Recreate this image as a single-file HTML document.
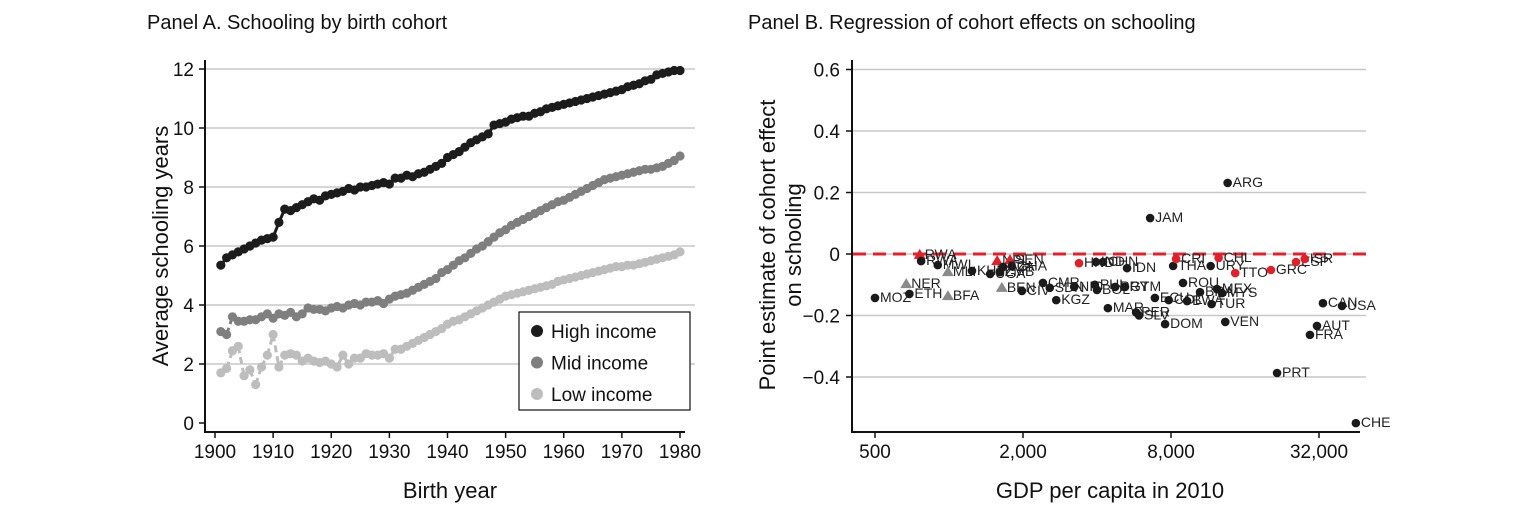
<!DOCTYPE html>
<html><head><meta charset="utf-8"><style>
body{margin:0;background:#fff;}
svg text{font-family:"Liberation Sans",sans-serif;}
</style></head><body>
<svg id="chart" width="1534" height="519" xmlns="http://www.w3.org/2000/svg">
<text x="147" y="29" font-size="20" fill="#111">Panel A. Schooling by birth cohort</text>
<text x="748" y="29" font-size="20" fill="#111">Panel B. Regression of cohort effects on schooling</text>
<g id="pa"></g><g id="pb"></g>
</svg>
<script>
const years=[];for(let y=1901;y<=1980;y++)years.push(y);
const highIncome=[5.35,5.6,5.7,5.8,5.9,6.0,6.1,6.2,6.25,6.3,6.8,7.25,7.2,7.3,7.4,7.5,7.6,7.55,7.7,7.75,7.8,7.85,7.95,7.9,8.0,8.0,8.05,8.1,8.15,8.1,8.3,8.3,8.4,8.35,8.45,8.5,8.6,8.7,8.8,9.0,9.1,9.2,9.35,9.5,9.6,9.7,9.8,10.1,10.15,10.2,10.3,10.35,10.4,10.4,10.5,10.55,10.65,10.7,10.75,10.8,10.85,10.9,10.95,11.0,11.05,11.1,11.15,11.2,11.25,11.3,11.4,11.45,11.5,11.6,11.65,11.8,11.85,11.9,11.95,11.95];
const midIncome=[3.1,3.0,3.6,3.45,3.45,3.5,3.5,3.6,3.7,3.55,3.7,3.65,3.75,3.6,3.7,3.9,3.85,3.85,3.8,3.9,3.95,3.9,4.0,4.05,4.0,4.1,4.1,4.15,4.05,4.2,4.3,4.35,4.4,4.5,4.6,4.7,4.8,4.9,5.1,5.2,5.35,5.5,5.6,5.75,5.9,6.0,6.15,6.3,6.45,6.55,6.7,6.8,6.9,7.0,7.1,7.2,7.3,7.4,7.5,7.55,7.65,7.75,7.85,7.95,8.05,8.15,8.25,8.3,8.35,8.4,8.45,8.5,8.55,8.6,8.6,8.65,8.7,8.8,8.9,9.05];
const lowIncome=[1.7,1.85,2.45,2.6,1.6,1.8,1.3,1.9,2.3,3.0,1.9,2.3,2.35,2.3,2.1,2.2,2.1,2.05,2.1,2.0,1.9,2.3,2.0,2.2,2.2,2.35,2.3,2.3,2.35,2.2,2.5,2.5,2.6,2.7,2.8,2.9,3.0,3.1,3.2,3.35,3.45,3.5,3.6,3.7,3.8,3.9,4.0,4.1,4.2,4.3,4.35,4.4,4.45,4.5,4.55,4.6,4.65,4.7,4.8,4.85,4.9,4.95,5.0,5.05,5.1,5.15,5.2,5.25,5.3,5.3,5.35,5.35,5.4,5.45,5.5,5.55,5.6,5.65,5.7,5.8];
const yTicksA=[0,2,4,6,8,10,12];
const xTicksA=[1900,1910,1920,1930,1940,1950,1960,1970,1980];
const countries=["MOZ","ETH","NER","BFA","RWA","RWA","MWI","MLI","KHM","UGA","ZMB","NPL","SEN","GHA","TZA","BEN","CIV","CMR","SDN","KGZ","NIC","PHL","BOL","PRY","GTM","IDN","CHN","IND","HND","MAR","PER","SLV","ECU","COL","DOM","ROU","BWA","BRA","TUR","MEX","MYS","VEN","ARG","JAM","THA","URY","CRI","CHL","TTO","GRC","ESP","ISR","CAN","USA","AUT","FRA","PRT","CHE"];
const gdp=[500,690,670,990,760,770,900,990,1240,1470,1610,1570,1770,1800,1660,1640,1980,2410,2570,2730,3230,3920,4000,4740,5200,5300,4230,3960,3380,4430,5770,5930,6880,7830,7570,8950,9300,10500,11700,12300,12900,13300,13600,6580,8160,11600,8390,12500,14600,20400,25800,28000,33200,39700,31400,29400,21600,45200];
const effect=[-0.143,-0.13,-0.098,-0.137,-0.003,-0.023,-0.036,-0.059,-0.055,-0.065,-0.059,-0.023,-0.02,-0.04,-0.042,-0.11,-0.12,-0.094,-0.11,-0.15,-0.107,-0.1,-0.117,-0.107,-0.107,-0.046,-0.026,-0.026,-0.03,-0.176,-0.19,-0.2,-0.143,-0.15,-0.228,-0.094,-0.153,-0.124,-0.163,-0.114,-0.127,-0.221,0.231,0.117,-0.039,-0.039,-0.016,-0.013,-0.062,-0.052,-0.026,-0.016,-0.16,-0.169,-0.234,-0.263,-0.387,-0.55];
const markerType=["c","c","gt","gt","rt","c","c","gt","c","c","c","rt","rt","c","c","gt","c","c","c","c","c","c","c","c","c","c","c","c","r","c","c","c","c","c","c","c","c","c","c","c","c","c","c","c","c","c","r","r","r","r","r","r","c","c","c","c","c","c"];
const yTicksB=[-0.4,-0.2,0,0.2,0.4,0.6];
const yTickLabelsB=["\u22120.4","\u22120.2","0","0.2","0.4","0.6"];
const xTicksB=[500,2000,8000,32000];
const xTickLabelsB=["500","2,000","8,000","32,000"];
const NS="http://www.w3.org/2000/svg";
function mk(p,t,a){const e=document.createElementNS(NS,t);for(const k in a)e.setAttribute(k,a[k]);p.appendChild(e);return e;}
// Panel A
const pa=document.getElementById('pa');
const xA=y=>215+(y-1900)*5.8125, yA=v=>423-v*29.5;
yTicksA.forEach(t=>{
 if(t>0){const g=mk(pa,'line',{x1:206,x2:695,y1:yA(t),y2:yA(t),stroke:'#c8c8c8','stroke-width':1.5});
 
 }
 mk(pa,'line',{x1:199,x2:206,y1:yA(t),y2:yA(t),stroke:'#111','stroke-width':1.5});
 const tx=mk(pa,'text',{x:194,y:yA(t)+7,'font-size':19,'text-anchor':'end',fill:'#111'});tx.textContent=t;
 
 
});
mk(pa,'line',{x1:205,x2:205,y1:60,y2:433,stroke:'#111','stroke-width':2});
mk(pa,'line',{x1:205,x2:685,y1:432,y2:432,stroke:'#111','stroke-width':2});
xTicksA.forEach(t=>{
 mk(pa,'line',{x1:xA(t),x2:xA(t),y1:432,y2:438,stroke:'#111','stroke-width':1.5});
 const tx=mk(pa,'text',{x:xA(t),y:458,'font-size':19,'text-anchor':'middle',fill:'#111'});tx.textContent=t;
 
 
});
let t1=mk(pa,'text',{x:0,y:0,'font-size':22,'text-anchor':'middle',fill:'#111',transform:'translate(168,246) rotate(-90)'});t1.textContent='Average schooling years';


let t2=mk(pa,'text',{x:450,y:498,'font-size':22,'text-anchor':'middle',fill:'#111'});t2.textContent='Birth year';


function series(vals,col,name,dashEnd){
 const g=mk(pa,'g',{});
 
 
 for(let i=1;i<vals.length;i++){
  const dash=years[i]<=dashEnd;
  mk(g,'line',{x1:xA(years[i-1]),y1:yA(vals[i-1]),x2:xA(years[i]),y2:yA(vals[i]),stroke:col,'stroke-width':3,'stroke-dasharray':dash?'7,4':'none'});
 }
 vals.forEach((v,i)=>{const c=mk(g,'circle',{cx:xA(years[i]),cy:yA(v),r:4.6,fill:col});
  
  });
}
series(lowIncome,'#bdbdbe','low-income-series',1912);
series(midIncome,'#7f7f80','mid-income-series',1903);
series(highIncome,'#1c1c1c','high-income-series',0);
const lg=mk(pa,'g',{});


mk(lg,'rect',{x:519,y:312,width:171,height:98,fill:'#fff',stroke:'#111','stroke-width':1.2});
[['High income','#1c1c1c'],['Mid income','#7f7f80'],['Low income','#bdbdbe']].forEach((d,i)=>{
 const y=331+i*31.5;
 mk(lg,'circle',{cx:537,cy:y,r:6,fill:d[1]});
 const tx=mk(lg,'text',{x:551,y:y+7,'font-size':19,fill:'#111'});tx.textContent=d[0];
 
 
});
// Panel B
const pb=document.getElementById('pb');
const xB=g=>875+Math.log2(g/500)*74, yB=v=>254-v*307.5;
yTicksB.forEach((t,i)=>{
 const g=mk(pb,'line',{x1:853,x2:1366,y1:yB(t),y2:yB(t),stroke:'#c8c8c8','stroke-width':1.5});
 
 
 mk(pb,'line',{x1:846,x2:853,y1:yB(t),y2:yB(t),stroke:'#111','stroke-width':1.5});
 const tx=mk(pb,'text',{x:840,y:yB(t)+7,'font-size':19,'text-anchor':'end',fill:'#111'});tx.textContent=yTickLabelsB[i];
 
 
});
mk(pb,'line',{x1:852,x2:852,y1:60,y2:433,stroke:'#111','stroke-width':2});
mk(pb,'line',{x1:852,x2:1360,y1:432,y2:432,stroke:'#111','stroke-width':2});
xTicksB.forEach((t,i)=>{
 mk(pb,'line',{x1:xB(t),x2:xB(t),y1:432,y2:438,stroke:'#111','stroke-width':1.5});
 const tx=mk(pb,'text',{x:xB(t),y:458,'font-size':19,'text-anchor':'middle',fill:'#111'});tx.textContent=xTickLabelsB[i];
 
 
});
let t3=mk(pb,'text',{x:0,y:0,'font-size':22,'text-anchor':'middle',fill:'#111',transform:'translate(775,245) rotate(-90)'});t3.textContent='Point estimate of cohort effect';


let t4=mk(pb,'text',{x:0,y:0,'font-size':22,'text-anchor':'middle',fill:'#111',transform:'translate(801,245) rotate(-90)'});t4.textContent='on schooling';


let t5=mk(pb,'text',{x:1110,y:498,'font-size':22,'text-anchor':'middle',fill:'#111'});t5.textContent='GDP per capita in 2010';


const zl=mk(pb,'line',{x1:853,x2:1366,y1:yB(0),y2:yB(0),stroke:'#e0202a','stroke-width':3,'stroke-dasharray':'13,7'});


countries.forEach((c,i)=>{
 const x=xB(gdp[i]),y=yB(effect[i]),m=markerType[i];
 let el;
 if(m==='c')el=mk(pb,'circle',{cx:x,cy:y,r:4.3,fill:'#1a1a1a'});
 else if(m==='r')el=mk(pb,'circle',{cx:x,cy:y,r:4.3,fill:'#e0202a'});
 else el=mk(pb,'polygon',{points:`${x},${y-6} ${x-6},${y+4} ${x+6},${y+4}`,fill:m==='rt'?'#e0202a':'#8a8a8a'});
 
 
 const tx=mk(pb,'text',{x:x+5,y:y+4,'font-size':14,fill:'#222'});tx.textContent=c;
 
 
});
</script>
</body></html>
